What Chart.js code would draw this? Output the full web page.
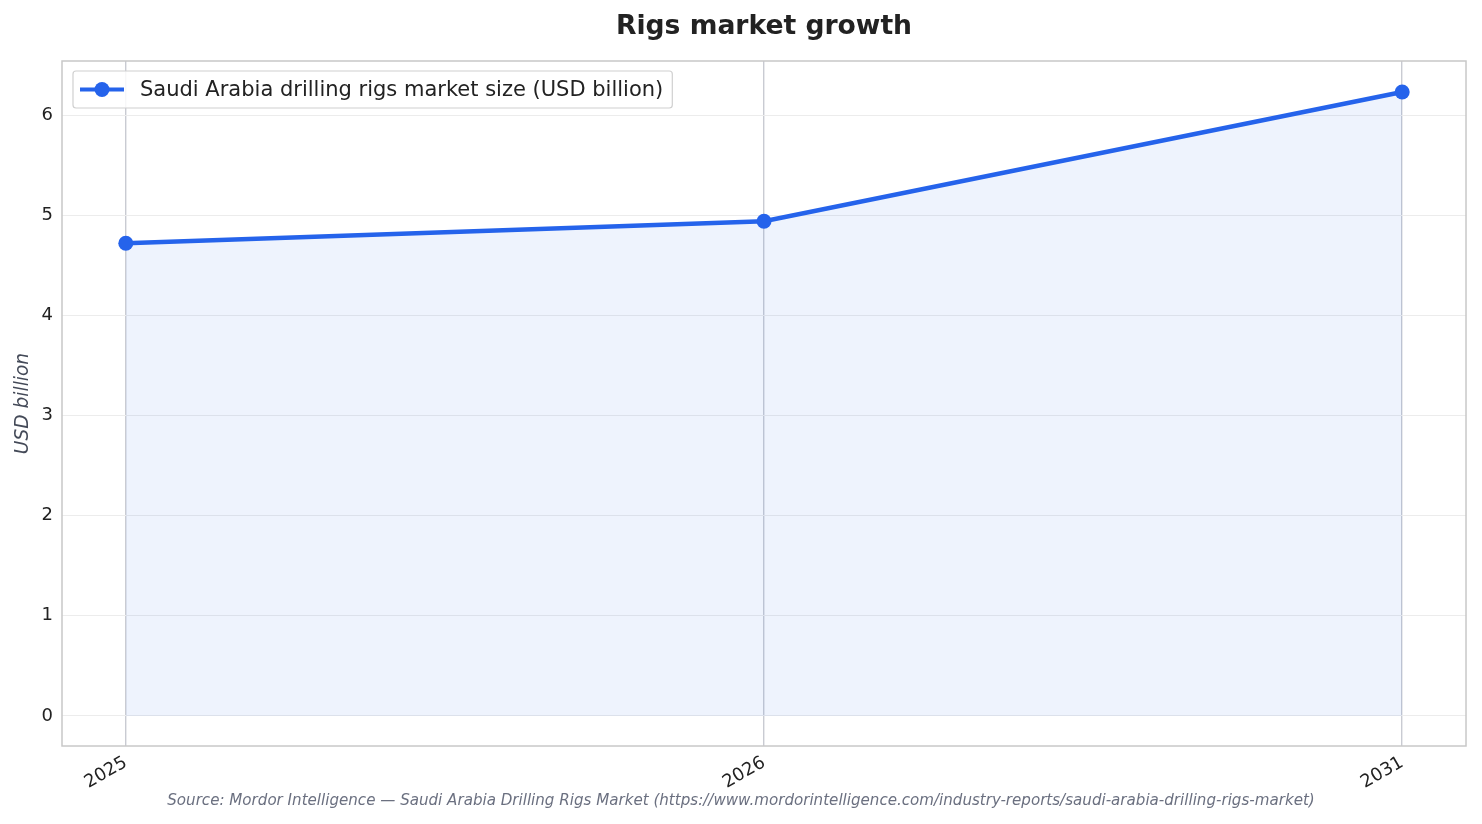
<!DOCTYPE html>
<html>
<head>
<meta charset="utf-8">
<title>Rigs market growth</title>
<script src="https://cdn.jsdelivr.net/npm/chart.js@4"></script>
<style>
  html, body { margin: 0; padding: 0; background: #fff; }
  #wrap { width: 1482px; height: 824px; }
</style>
</head>
<body>
<div id="wrap"><canvas id="myChart" width="1482" height="824"></canvas></div>
<script>
const years = ["2025", "2026", "2031"];
const marketSize = [4.72, 4.94, 6.23];
const yTicks = [0, 1, 2, 3, 4, 5, 6];

const seriesLabel = "Saudi Arabia drilling rigs market size (USD billion)";
const sourceText = "Source: Mordor Intelligence \u2014 Saudi Arabia Drilling Rigs Market (https://www.mordorintelligence.com/industry-reports/saudi-arabia-drilling-rigs-market)";
const blue = "#2563eb";
const font = "'DejaVu Sans', sans-serif";

// frame, title, source and the in-plot legend
const decorations = {
  id: "decorations",
  afterDraw(chart) {
    const { ctx, chartArea: a } = chart;
    ctx.save();
    ctx.strokeStyle = "#c8c8c8";
    ctx.lineWidth = 1.5;
    ctx.strokeRect(a.left, a.top, a.right - a.left, a.bottom - a.top);

    ctx.fillStyle = "#222";
    ctx.font = "bold 26.6px " + font;
    ctx.textAlign = "center";
    ctx.textBaseline = "middle";
    ctx.fillText("Rigs market growth", (a.left + a.right) / 2, 27);

    ctx.fillStyle = "#6b7080";
    ctx.font = "italic 15.1px " + font;
    ctx.fillText(sourceText, chart.width / 2, 801);

    // legend
    const lx = a.left + 11, ly = a.top + 10, lh = 37;
    ctx.font = "21px " + font;
    const tw = ctx.measureText(seriesLabel).width;
    const lw = 67 + tw + 9;
    ctx.fillStyle = "rgba(255,255,255,0.85)";
    ctx.strokeStyle = "#d0d0d0";
    ctx.lineWidth = 1.2;
    ctx.beginPath();
    ctx.roundRect(lx, ly, lw, lh, 3);
    ctx.fill();
    ctx.stroke();
    const cy = ly + lh / 2;
    ctx.strokeStyle = blue;
    ctx.lineWidth = 4;
    ctx.beginPath();
    ctx.moveTo(lx + 7, cy);
    ctx.lineTo(lx + 51, cy);
    ctx.stroke();
    ctx.fillStyle = blue;
    ctx.beginPath();
    ctx.arc(lx + 29, cy, 7.5, 0, Math.PI * 2);
    ctx.fill();
    ctx.fillStyle = "#222";
    ctx.textAlign = "left";
    ctx.fillText(seriesLabel, lx + 67, cy + 1);
    ctx.restore();
  }
};

const ctx = document.getElementById("myChart");
const myChart = new Chart(ctx, {
  type: "line",
  data: {
    datasets: [
      {
        label: seriesLabel,
        data: marketSize.map((v, i) => ({ x: i, y: v })),
        borderColor: blue,
        backgroundColor: "rgba(37, 99, 235, 0.08)",
        borderWidth: 4.5,
        pointRadius: 7.5,
        pointHoverRadius: 7.5,
        pointBackgroundColor: blue,
        pointBorderWidth: 0,
        fill: "origin",
        tension: 0,
      },
    ],
  },
  options: {
    responsive: false,
    animation: false,
    devicePixelRatio: 1,
    layout: { padding: { top: 61, left: 0, right: 16, bottom: 0 } },
    plugins: {
      legend: { display: false },
      title: { display: false },
      tooltip: { enabled: false },
    },
    scales: {
      x: {
        type: "linear",
        min: -0.1,
        max: years.length - 0.9,
        afterFit(scale) { scale.height = 78; },
        afterBuildTicks(scale) {
          scale.ticks = years.map((_, i) => ({ value: i }));
        },
        ticks: {
          callback: (v) => years[v],
          minRotation: 30,
          maxRotation: 30,
          padding: 6,
          color: "#222",
          font: { family: font, size: 18 },
        },
        grid: { color: "#c9cbd2", lineWidth: 1.4, drawTicks: false },
        border: { display: false },
      },
      y: {
        min: -0.3,
        max: 6.54,
        afterFit(scale) { scale.width = 62; },
        afterBuildTicks(scale) {
          scale.ticks = yTicks.map((v) => ({ value: v }));
        },
        ticks: {
          padding: 9,
          color: "#222",
          font: { family: font, size: 18 },
        },
        grid: { color: "#ececec", lineWidth: 1, drawTicks: false },
        border: { display: false },
        title: {
          display: true,
          text: "USD billion",
          color: "#444a58",
          padding: { top: 12, bottom: 0 },
          font: { family: font, size: 18.6, style: "italic" },
        },
      },
    },
  },
  plugins: [decorations],
});
</script>
</body>
</html>
